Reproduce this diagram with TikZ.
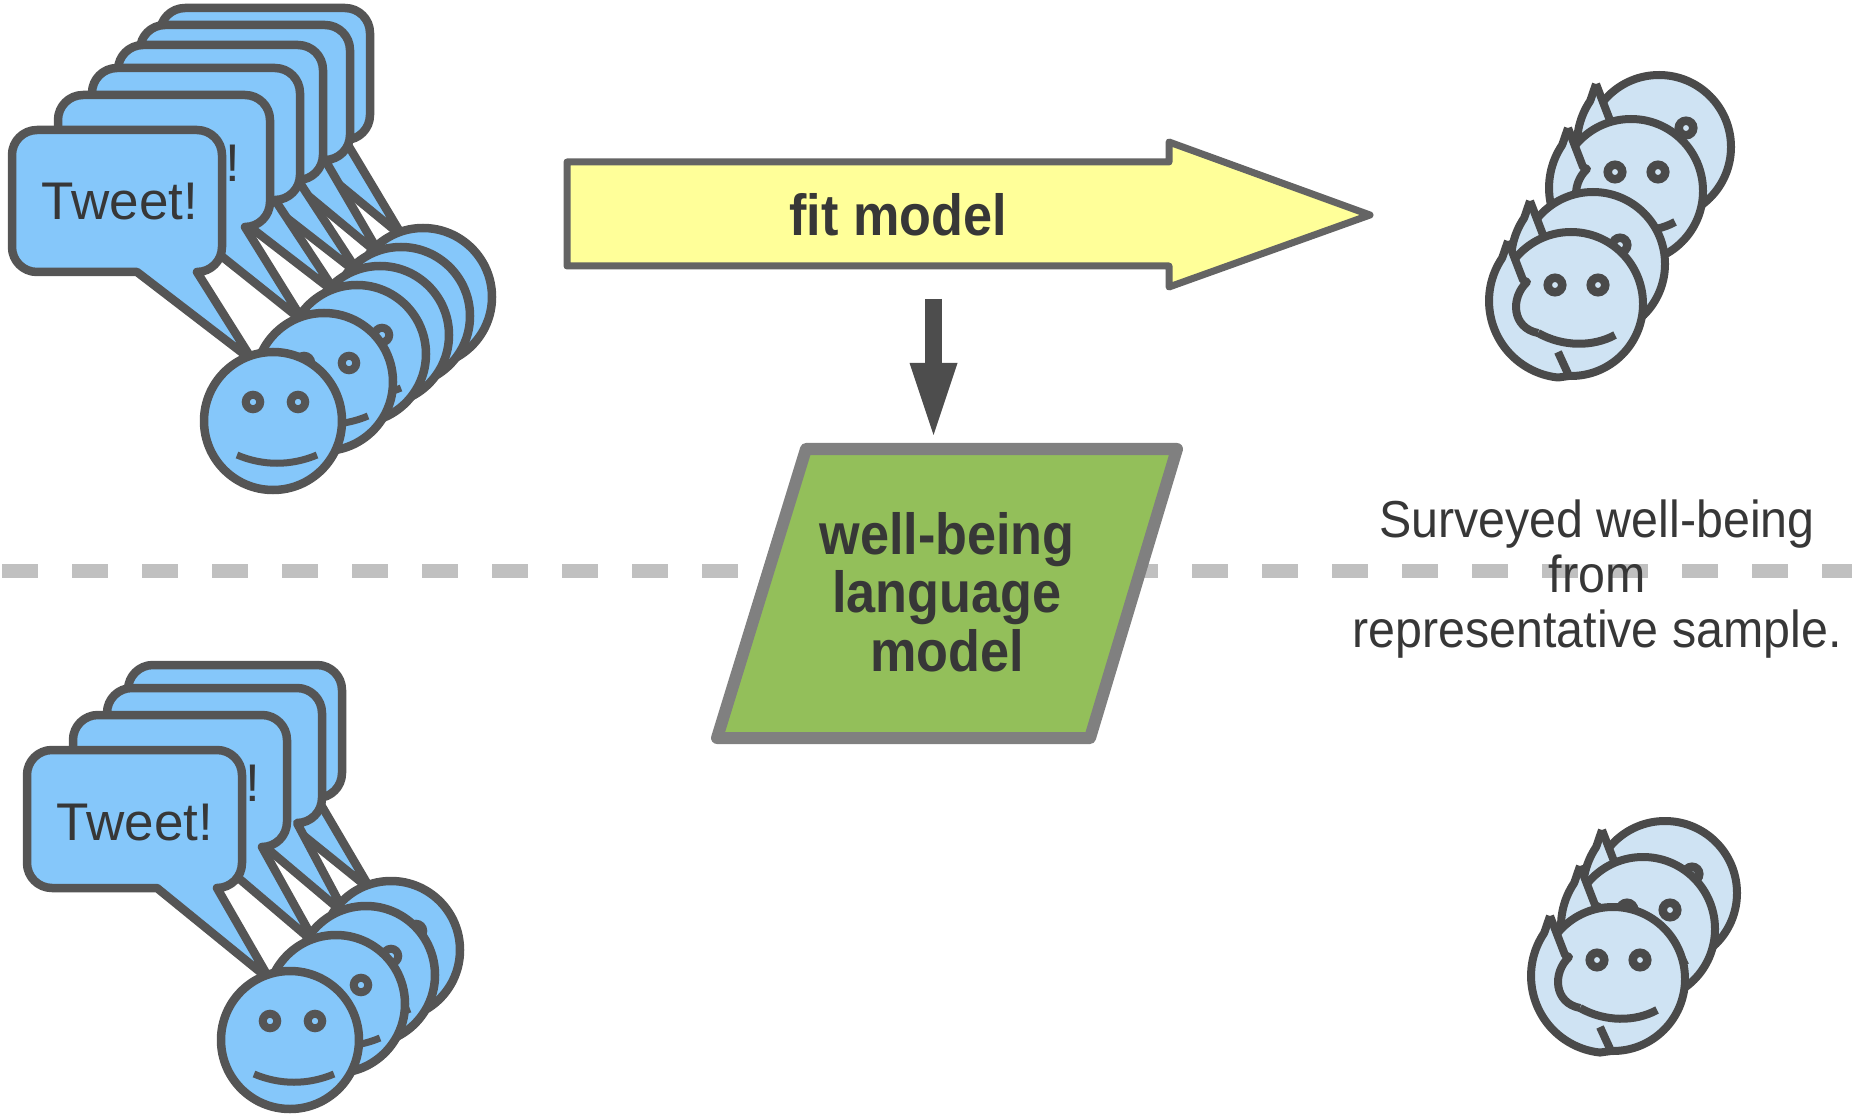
\documentclass[tikz,border=0pt]{standalone}
\usepackage{fontspec}
\setmainfont{Liberation Sans}
\newfontfamily\narrowsans[FakeStretch=0.93]{Liberation Sans}
\newfontfamily\narrowbold[FakeStretch=0.9]{Liberation Sans}
\usetikzlibrary{arrows.meta}
\setlength{\lineskiplimit}{-100pt}

\definecolor{tweetblue}{RGB}{133,199,250}
\definecolor{tweetline}{RGB}{85,85,85}
\definecolor{headblue}{RGB}{207,227,243}
\definecolor{headline}{RGB}{74,74,74}
\definecolor{arrowfill}{RGB}{255,255,153}
\definecolor{arrowline}{RGB}{100,100,100}
\definecolor{modelgreen}{RGB}{147,191,90}
\definecolor{modelline}{RGB}{128,128,128}
\definecolor{textgray}{RGB}{55,55,55}
\definecolor{dashgray}{RGB}{192,192,192}
\definecolor{downgray}{RGB}{77,77,77}

% speech bubble with its tail: x, y, width, height, tail tip x, tail tip y
\newcommand\tweetbubble[6]{%
  \path[bubble] (#1+25,#2) -- (#1+#3-25,#2) arc[start angle=270,end angle=360,radius=25]
    -- (#1+#3,#2+#4-25) arc[start angle=0,end angle=90,radius=25]
    -- (#5,#6) -- (#1+#3-85,#2+#4)
    -- (#1+25,#2+#4) arc[start angle=90,end angle=180,radius=25]
    -- (#1,#2+25) arc[start angle=180,end angle=270,radius=25] -- cycle;
}

\tikzset{
  bubble/.style={fill=tweetblue, draw=tweetline, line width=4.25pt, line join=round},
  tweettext/.style={anchor=base, inner sep=0pt, text=textgray,
    font=\fontsize{26.5pt}{30pt}\selectfont},
  face/.style={fill=tweetblue, draw=tweetline, line width=4.25pt},
  faceeye/.style={fill=tweetblue, draw=tweetline, line width=4pt},
  facemouth/.style={draw=tweetline, line width=3.5pt},
  headbody/.style={fill=headblue, draw=headline, line width=4pt},
  headstroke/.style={draw=headline, line width=4pt, line join=round},
  headeye/.style={fill=headblue, draw=headline, line width=4.25pt},
  divider/.style={draw=dashgray, line width=7pt, dash pattern=on 18pt off 17pt, dash phase=-1pt},
  fitarrow/.style={fill=arrowfill, draw=arrowline, line width=3.5pt, line join=round},
  boldtext/.style={inner sep=0pt, text=textgray, align=center,
    font=\narrowbold\bfseries\fontsize{29pt}{29.25pt}\selectfont},
  downarrow/.style={draw=downgray, line width=8.5pt,
    -{Triangle[length=36pt,width=24pt,line width=0pt]}},
  modelbox/.style={fill=modelgreen, draw=modelline, line width=6pt, line join=round},
  surveytext/.style={inner sep=0pt, text=textgray, align=center,
    font=\narrowsans\fontsize{26pt}{27.5pt}\selectfont},
  smiley/.pic={
    \path[face] (0,0) circle[radius=69];
    \path[faceeye] (-20,-19) circle[radius=7.25];
    \path[faceeye] (25,-19) circle[radius=7.25];
    \draw[facemouth] (-36,34) .. controls (-10,45) and (18,45) .. (44,34);
  },
  % head turned to the side: face disc, back of the head with a pointed tuft
  head/.pic={
    \path[headbody] (3,1) circle[radius=72];
    \coordinate (-tip) at (-60,-62);
    \coordinate (-nape) at (-65.8,-45.1);
    \fill[headblue] (-tip) -- (-nape) arc[start angle=214,end angle=96,radius=77]
      -- (1,73) -- (-10,49) -- (-30,30)
      .. controls (-56,25) and (-58,-5) .. (-41,-21) -- (-45,-23) -- cycle;
    \draw[headstroke] (-tip) -- (-nape) arc[start angle=214,end angle=96,radius=77] -- (1,73);
    \draw[headstroke] (-tip) -- (-45,-23) -- (-41,-21)
      .. controls (-58,-5) and (-56,25) .. (-30,30);
    \draw[headstroke] (-10,49) -- (1,73);
    \path[headeye] (-13,-18) circle[radius=7.25];
    \path[headeye] (30,-18) circle[radius=7.25];
    \draw[headstroke] (-30,30) .. controls (-5,44) and (25,44) .. (47,32);
  }
}

\begin{document}
\begin{tikzpicture}[x=0.5pt,y=-0.5pt]
\useasboundingbox (0,0) rectangle (1852,1117);

% divider between the two halves
\draw[divider] (0,571) -- (1852,571);

% ---- upper tweets ----
\tweetbubble{160}{8}{210}{132}{403}{237}
\tweetbubble{140}{25}{210}{135}{381}{256}
\tweetbubble{118}{45}{205}{135}{360}{275}
\tweetbubble{92}{68}{208}{132}{337}{294}
\tweetbubble{58}{95}{212}{132}{304}{322}
\node[tweettext] (tw2) at (162,182) {Tweet!};
\tweetbubble{12}{130}{210}{142}{253}{361}
\node[tweettext] (tw1) at (120,220) {Tweet!};

\pic (uf6) at (423,297) {smiley};
\pic (uf5) at (401,316) {smiley};
\pic (uf4) at (380,335) {smiley};
\pic (uf3) at (357,354) {smiley};
\pic (uf2) at (324,382) {smiley};
\pic (uf1) at (273,421) {smiley};

% ---- lower tweets ----
\tweetbubble{128}{665}{214}{133}{371}{890}
\tweetbubble{107}{688}{215}{135}{346}{915}
\tweetbubble{73}{715}{214}{132}{316}{944}
\node[tweettext] (tw4) at (182,801) {Tweet!};
\tweetbubble{27}{750}{215}{138}{270}{980}
\node[tweettext] (tw3) at (135,840) {Tweet!};

\pic (lf4) at (391,950) {smiley};
\pic (lf3) at (366,975) {smiley};
\pic (lf2) at (336,1004) {smiley};
\pic (lf1) at (290,1040) {smiley};

% ---- fit model arrow ----
\coordinate (fa1) at (567,162);
\coordinate (fa2) at (1169,162);
\coordinate (fa3) at (1169,142);
\coordinate (fa4) at (1370,215);
\coordinate (fa5) at (1169,287);
\coordinate (fa6) at (1169,266);
\coordinate (fa7) at (567,266);
\path[fitarrow] (fa1) -- (fa2) -- (fa3) -- (fa4) -- (fa5) -- (fa6) -- (fa7) -- cycle;
\node[boldtext, anchor=base] (fit) at (898,236) {fit model};

% ---- language model ----
\coordinate (m1) at (806,449);
\coordinate (m2) at (1177,449);
\coordinate (m3) at (1090,738);
\coordinate (m4) at (717,738);
\path[modelbox] (m1) -- (m2) -- (m3) -- (m4) -- cycle;
\node[boldtext] (model) at (947,592) {well-being\\language\\model};

\coordinate (fitfoot) at (933.5,299);
\coordinate (modeltop) at (933.5,435);
\draw[downarrow] (fitfoot) -- (modeltop);

% ---- survey label ----
\node[surveytext] (survey) at (1597,579.5) {Surveyed well-being\\from\\representative sample.};

% ---- surveyed people, upper ----
\pic (sa) at (1656,146) {head};
\pic (sb) at (1628,190) {head};
\pic (sc) at (1590,263) {head};
\pic (sd) at (1568,303) {head};

% ---- surveyed people, lower ----
\pic (sx) at (1662,892) {head};
\pic (sy) at (1640,928) {head};
\pic (sz) at (1610,978) {head};

\end{tikzpicture}
\end{document}
